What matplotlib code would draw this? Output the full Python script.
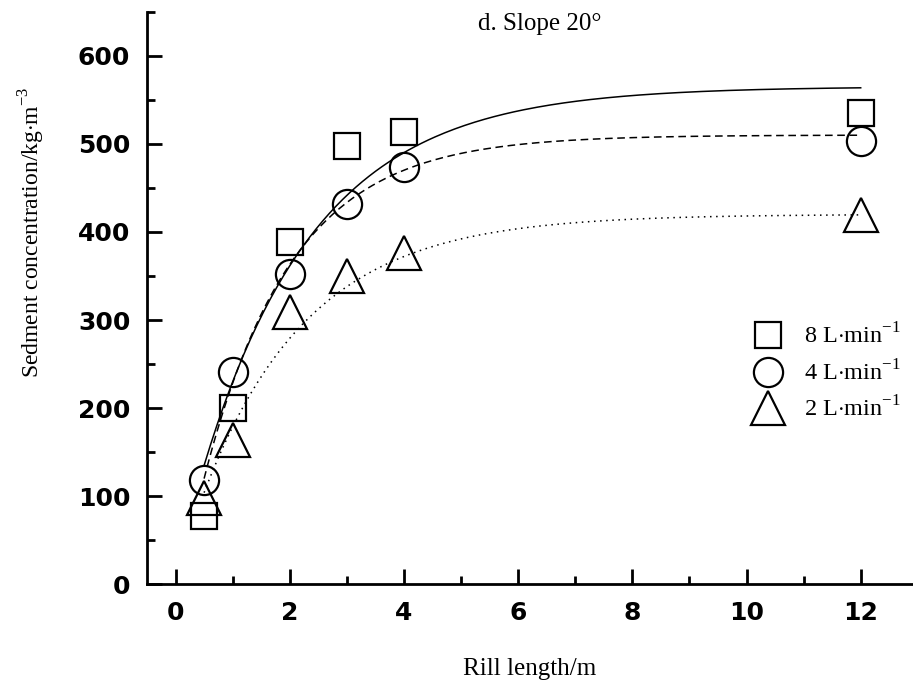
import matplotlib.pyplot as plt
import numpy as np

# rill length (m) and sediment concentration (kg/m3)
rill_length = [0.5, 1, 2, 3, 4, 12]
conc_8 = [78, 200, 388, 497, 514, 535]
conc_4 = [118, 241, 352, 432, 474, 503]
conc_2 = [98, 164, 309, 350, 376, 419]

# fitted curves y = a * (1 - b * exp(-k * x)), parameters
fit_8 = (565, 0.977, 0.499)
fit_4 = (510, 1.059, 0.651)
fit_2 = (420, 0.985, 0.539)

labels = ['8 L$\\cdot$min$^{-1}$', '4 L$\\cdot$min$^{-1}$', '2 L$\\cdot$min$^{-1}$']

serif = 'Liberation Serif'
sans = 'DejaVu Sans'
plt.rcParams['mathtext.fontset'] = 'custom'
plt.rcParams['mathtext.rm'] = serif

fig = plt.figure(figsize=(9.13, 6.89), dpi=100)
ax = fig.add_axes([0.161, 0.152, 0.838, 0.831])

xs = np.linspace(0.5, 12, 200)
for (a, b, k), ls in zip([fit_8, fit_4, fit_2], ['-', (0, (5, 3)), (0, (1, 3))]):
    ax.plot(xs, a * (1 - b * np.exp(-k * xs)), color='black', lw=1.1, linestyle=ls)

ax.plot(rill_length, conc_8, 's', ms=19, mfc='none', mec='black', mew=1.6, label=labels[0])
ax.plot(rill_length, conc_4, 'o', ms=21, mfc='none', mec='black', mew=1.6, label=labels[1])
ax.plot(rill_length, conc_2, '^', ms=24, mfc='none', mec='black', mew=1.6, label=labels[2])

ax.set_xlim(-0.5, 12.9)
ax.set_ylim(0, 650)
ax.set_xticks(np.arange(0, 13, 2))
ax.set_xticks(np.arange(1, 13, 2), minor=True)
ax.set_yticks(np.arange(0, 601, 100))
ax.set_yticks(np.arange(50, 651, 100), minor=True)

for s in ['top', 'right']:
    ax.spines[s].set_visible(False)
for s in ['left', 'bottom']:
    ax.spines[s].set_linewidth(2)

ax.tick_params(which='major', direction='in', length=11, width=2, pad=12)
ax.tick_params(which='minor', direction='in', length=6, width=2)
for lab in ax.get_xticklabels() + ax.get_yticklabels():
    lab.set_fontfamily(sans)
    lab.set_fontweight('bold')
    lab.set_fontsize(18)

ax.set_xlabel('Rill length/m', fontfamily=serif, fontsize=18, labelpad=24)
ax.set_ylabel('Sedment concentration/kg$\\cdot$m$^{-3}$', fontfamily=serif, fontsize=17)
ax.yaxis.set_label_coords(-0.131, 0.615)

ax.text(0.433, 0.997, 'd. Slope 20°', transform=ax.transAxes, fontfamily=serif,
        fontsize=18, va='top', ha='left')

leg = ax.legend(loc='center left', bbox_to_anchor=(0.759, 0.37), frameon=False,
                prop={'family': serif, 'size': 17.5}, handletextpad=0.75,
                labelspacing=0.45, handlelength=1.5, markerscale=1.0)

fig.savefig('out.png', dpi=100)
